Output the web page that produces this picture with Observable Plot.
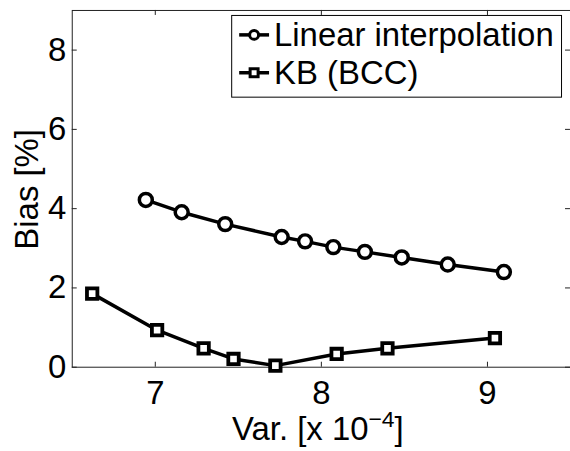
<!DOCTYPE html>
<html><head><meta charset="utf-8">
<script src="https://cdn.jsdelivr.net/npm/d3@7"></script>
<script src="https://cdn.jsdelivr.net/npm/@observablehq/plot@0.6"></script>
<style>
html,body{margin:0;padding:0;background:#fff;overflow:hidden;}
#chart{width:570px;height:451px;overflow:hidden;position:relative;}
</style>
</head><body><div id="chart"></div>
<script>
// Data
const linX = [6.943, 7.159, 7.421, 7.761, 7.902, 8.072, 8.262, 8.484, 8.761, 9.099];
const linY = [4.22, 3.91, 3.61, 3.285, 3.175, 3.03, 2.91, 2.77, 2.59, 2.40];
const kbX = [6.62, 7.011, 7.291, 7.471, 7.723, 8.092, 8.398, 9.045];
const kbY = [1.856, 0.935, 0.476, 0.208, 0.04, 0.334, 0.476, 0.735];
const xTicks = [7, 8, 9];
const yTicks = [0, 2, 4, 6, 8];
const seriesNames = ["Linear interpolation", "KB (BCC)"];
const xLabelMain = "Var. [x 10";
const xLabelSup = "\u22124";
const xLabelEnd = "]";
const yLabel = "Bias [%]";

const linData = linX.map((x, i) => ({x, y: linY[i]}));
const kbData = kbX.map((x, i) => ({x, y: kbY[i]}));

const W = 572, H = 451, mL = 72, mT = 10, mB = 83, mR = 0;
const fw = W - mL - mR, fh = H - mT - mB, tk = 5;
const ink = "#000";
const lw = 3.5;
const fs = 33;

const plot = Plot.plot({
  width: W, height: H,
  marginLeft: mL, marginRight: mR, marginTop: mT, marginBottom: mB,
  x: {domain: [6.5, 9.5]},
  y: {domain: [0, 9]},
  style: {fontFamily: "'Liberation Sans', Arial, Helvetica, sans-serif", fontSize: fs + "px", background: "#fff", color: ink},
  marks: [
    Plot.frame({stroke: "#222", strokeWidth: 1}),
    Plot.ruleX(xTicks, {x: d => d, insetTop: fh - tk, stroke: "#222"}),
    Plot.ruleX(xTicks, {x: d => d, insetBottom: fh - tk, stroke: "#222"}),
    Plot.ruleY(yTicks, {y: d => d, insetRight: fw - tk, stroke: "#222"}),
    Plot.ruleY(yTicks, {y: d => d, insetLeft: fw - tk, stroke: "#222"}),
    Plot.axisX({ticks: xTicks, tickFormat: d => String(d), tickSize: 0, tickPadding: 13, label: null, anchor: "bottom"}),
    Plot.axisY({ticks: yTicks, tickFormat: d => String(d), tickSize: 0, tickPadding: 6, label: null, anchor: "left"}),
    Plot.line(linData, {x: "x", y: "y", stroke: ink, strokeWidth: lw}),
    Plot.dot(linData, {x: "x", y: "y", r: 6.5, stroke: ink, strokeWidth: lw, fill: "#fff"}),
    Plot.line(kbData, {x: "x", y: "y", stroke: ink, strokeWidth: lw}),
    Plot.dot(kbData, {x: "x", y: "y", symbol: "square", r: 5.9, stroke: ink, strokeWidth: 3.8, fill: "#fff"})
  ]
});

const svg = d3.select(plot);
// x label with superscript
const xl = svg.append("text")
  .attr("x", 319).attr("y", 442)
  .attr("text-anchor", "middle")
  .attr("font-size", fs).attr("fill", ink);
xl.append("tspan").text(xLabelMain);
xl.append("tspan").attr("font-size", 23).attr("dy", -14).text(xLabelSup);
xl.append("tspan").attr("font-size", fs).attr("dy", 14).text(xLabelEnd);

// y label
svg.append("text")
  .attr("transform", "translate(38,190) rotate(-90)")
  .attr("text-anchor", "middle")
  .attr("font-size", fs).attr("fill", ink)
  .text(yLabel);

// legend
const lg = svg.append("g").attr("text-anchor", "start");
lg.append("rect").attr("x", 232.5).attr("y", 15.5).attr("width", 331).attr("height", 82)
  .attr("fill", "#fff").attr("stroke", ink).attr("stroke-width", 1);
seriesNames.forEach((name, i) => {
  const cy = 35 + i * 38;
  lg.append("line").attr("x1", 240).attr("x2", 270).attr("y1", cy).attr("y2", cy)
    .attr("stroke", ink).attr("stroke-width", lw);
  if (i === 0) {
    lg.append("circle").attr("cx", 255).attr("cy", cy).attr("r", 4.5)
      .attr("fill", "#fff").attr("stroke", ink).attr("stroke-width", 3);
  } else {
    lg.append("rect").attr("x", 251).attr("y", cy - 4).attr("width", 8).attr("height", 8)
      .attr("fill", "#fff").attr("stroke", ink).attr("stroke-width", 3);
  }
  lg.append("text").attr("x", 275).attr("y", cy).attr("dy", "0.35em")
    .attr("text-anchor", "start")
    .attr("font-size", fs).attr("fill", ink).text(name);
});

document.getElementById("chart").appendChild(plot);
</script>
</body></html>
